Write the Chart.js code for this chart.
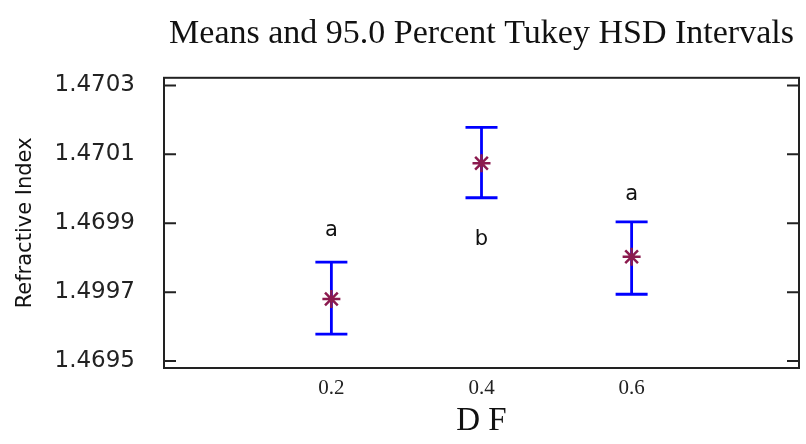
<!DOCTYPE html>
<html>
<head>
<meta charset="utf-8">
<script src="https://cdn.jsdelivr.net/npm/chart.js@4/dist/chart.umd.min.js"></script>
<style>
  html, body { margin: 0; padding: 0; background: #fff; }
  #wrap { width: 806px; height: 444px; }
</style>
</head>
<body>
<div id="wrap"><canvas id="chart" width="806" height="444"></canvas></div>
<script>
// Données
const categories = [0.2, 0.4, 0.6];
const xTickLabels = ['0.2', '0.4', '0.6'];
const means = [1.46968, 1.470074, 1.469803];
const lower = [1.469578, 1.469974, 1.469694];
const upper = [1.469787, 1.470178, 1.469904];
const groupLetters = ['a', 'b', 'a'];
const letterY = [1.469878, 1.469852, 1.469983];
const yTickValues = [1.4695, 1.4697, 1.4699, 1.4701, 1.4703];
const yTickLabels = ['1.4695', '1.4997', '1.4699', '1.4701', '1.4703'];

// Cadre, petits traits de graduation, intervalles et lettres de groupe
const tukeyPlugin = {
    id: 'tukey',
    beforeDatasetsDraw(chart) {
        const { ctx, scales: { x, y } } = chart;
        ctx.save();
        // intervalles HSD
        ctx.strokeStyle = '#0000ff';
        ctx.lineWidth = 2.8;
        categories.forEach((c, i) => {
            const px = x.getPixelForValue(c);
            const top = y.getPixelForValue(upper[i]);
            const bot = y.getPixelForValue(lower[i]);
            ctx.beginPath();
            ctx.moveTo(px, top); ctx.lineTo(px, bot);
            ctx.moveTo(px - 16, top); ctx.lineTo(px + 16, top);
            ctx.moveTo(px - 16, bot); ctx.lineTo(px + 16, bot);
            ctx.stroke();
        });
        ctx.restore();
    },
    afterDatasetsDraw(chart) {
        const { ctx, chartArea: a, scales: { x, y } } = chart;
        ctx.save();
        // cadre
        ctx.strokeStyle = '#222';
        ctx.lineWidth = 2;
        ctx.strokeRect(a.left, a.top, a.right - a.left, a.bottom - a.top);
        // graduations vers l'intérieur, à gauche et à droite
        ctx.beginPath();
        yTickValues.forEach(v => {
            const py = y.getPixelForValue(v);
            ctx.moveTo(a.left, py); ctx.lineTo(a.left + 12, py);
            ctx.moveTo(a.right, py); ctx.lineTo(a.right - 12, py);
        });
        ctx.stroke();
        // lettres de groupe
        ctx.fillStyle = '#111';
        ctx.font = '21px "DejaVu Sans"';
        ctx.textAlign = 'center';
        ctx.textBaseline = 'middle';
        categories.forEach((c, i) => {
            ctx.fillText(groupLetters[i], x.getPixelForValue(c), y.getPixelForValue(letterY[i]));
        });
        ctx.restore();
    }
};

new Chart(document.getElementById('chart'), {
    type: 'scatter',
    data: {
        datasets: [{
            label: 'Moyenne',
            data: categories.map((c, i) => ({ x: c, y: means[i] })),
            pointStyle: 'star',
            pointRadius: 9,
            pointBorderWidth: 2.5,
            pointBorderColor: '#8b1a4e',
            pointBackgroundColor: '#8b1a4e'
        }]
    },
    options: {
        responsive: false,
        animation: false,
        layout: { autoPadding: false, padding: { left: 0, right: 7, top: 0, bottom: 0 } },
        plugins: {
            legend: { display: false },
            tooltip: { enabled: false },
            title: {
                display: true,
                fullSize: false,
                text: 'Means and 95.0 Percent Tukey HSD Intervals',
                color: '#111',
                font: { family: '"Liberation Serif"', size: 34, weight: 'normal' },
                padding: { top: 14, bottom: 23 }
            }
        },
        scales: {
            x: {
                type: 'linear',
                min: -0.023,
                max: 0.823,
                afterBuildTicks: s => { s.ticks = categories.map(v => ({ value: v })); },
                afterFit: s => { s.height = 76; },
                grid: { display: false, drawTicks: false },
                border: { display: false },
                ticks: {
                    padding: 8,
                    color: '#222',
                    font: { family: '"Liberation Serif"', size: 21 },
                    callback: (v, i) => xTickLabels[i]
                },
                title: {
                    display: true,
                    text: 'D F',
                    color: '#111',
                    font: { family: '"Liberation Serif"', size: 33 },
                    padding: { top: 0, bottom: 3 }
                }
            },
            y: {
                min: 1.46948,
                max: 1.470322,
                afterBuildTicks: s => { s.ticks = yTickValues.map(v => ({ value: v })); },
                afterFit: s => { s.width = 164; },
                grid: { display: false, drawTicks: false },
                border: { display: false },
                ticks: {
                    padding: 29,
                    color: '#222',
                    font: { family: '"DejaVu Sans"', size: 23 },
                    callback: (v, i) => yTickLabels[i]
                },
                title: {
                    display: true,
                    text: 'Refractive Index',
                    color: '#111',
                    font: { family: '"DejaVu Sans"', size: 21 },
                    padding: { top: 13, bottom: 0 }
                }
            }
        }
    },
    plugins: [tukeyPlugin]
});
</script>
</body>
</html>
